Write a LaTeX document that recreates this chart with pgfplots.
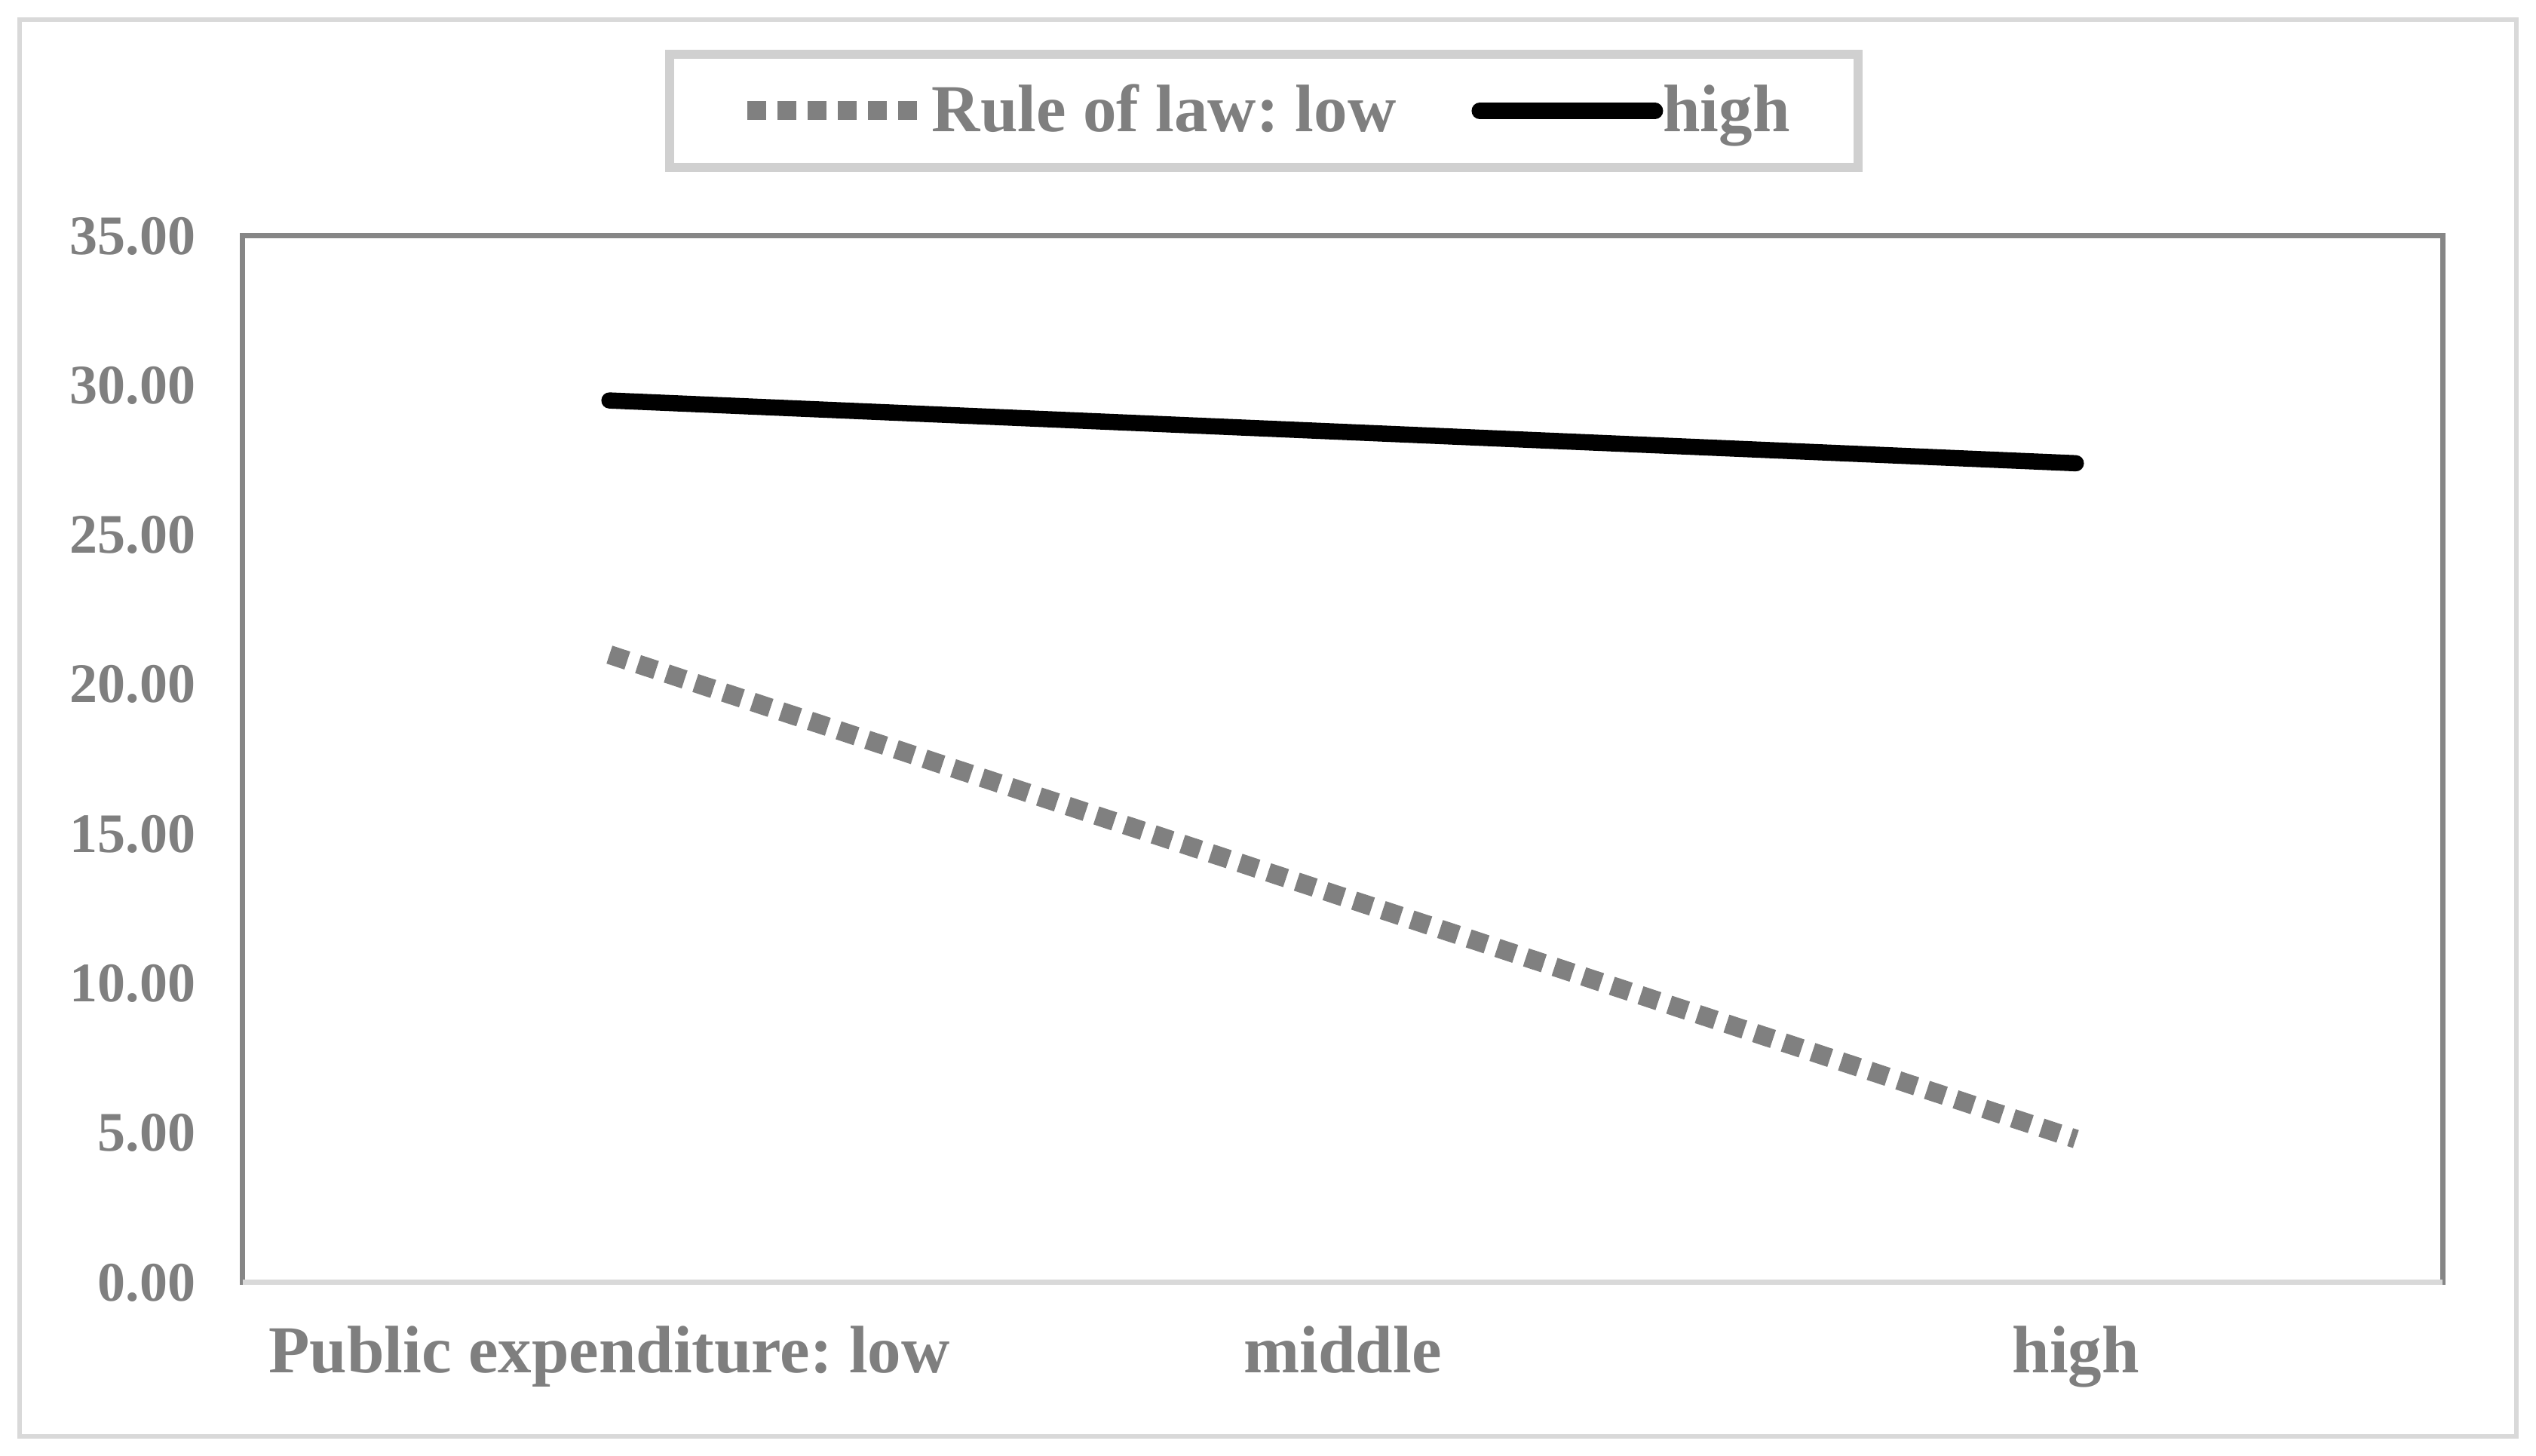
\documentclass[border=0pt]{standalone}
\usepackage{pgfplots}
\pgfplotsset{compat=1.18}
\usepackage{fontspec}
\setmainfont{Liberation Serif}
\frenchspacing
\definecolor{textgray}{HTML}{7F7F7F}
\definecolor{axgray}{HTML}{868686}
\definecolor{lightgray2}{HTML}{D9D9D9}
\definecolor{legendgray}{HTML}{D0D0D0}
\definecolor{dotgray}{HTML}{808080}
\begin{document}
\frenchspacing
\begin{tikzpicture}
\path[use as bounding box] (0,0) rectangle (672.6pt,386pt);
\draw[lightgray2, line width=1.2pt] (5.2pt,5pt) rectangle (667.4pt,380.8pt);
\begin{axis}[
  at={(64.4pt,45.8pt)}, anchor=south west,
  width=583.4pt, height=277.6pt, scale only axis,
  xmin=-0.5, xmax=2.5, ymin=0, ymax=35,
  xtick={0,1,2},
  xticklabels={Public expenditure: low, middle, high},
  ytick={0,5,10,15,20,25,30,35},
  major tick length=0pt,
  axis line style={axgray, line width=1.4pt},
  /pgf/number format/.cd, fixed, fixed zerofill, precision=2, assume math mode=true,
  /pgfplots/.cd,
  yticklabel style={font=\bfseries\fontsize{14.8}{17}\selectfont, text=textgray, xshift=-9pt},
  xticklabel style={font=\bfseries\fontsize{17.8}{20}\selectfont\frenchspacing, text=textgray, yshift=-8pt},
  legend columns=2,
  legend image code/.code={\draw[#1] (0pt,0pt) -- (46.5pt,0pt);},
  legend style={at={(rel axis cs:0.4642,1.1196)}, anchor=center,
    draw=legendgray, line width=2.4pt,
    font=\bfseries\fontsize{17.8}{20}\selectfont\frenchspacing, text=textgray,
    inner xsep=18pt, inner ysep=6pt,
    /tikz/every even column/.append style={column sep=20pt},
    nodes={inner xsep=0pt}},
  clip=false,
]
\addplot[dotgray, line width=5pt, line cap=butt, dash pattern=on 5pt off 3pt]
  coordinates {(0,21.0) (1,12.9) (2,4.8)};
\addlegendentry{Rule of law: low}
\addplot[black, line width=4.3pt, line cap=round]
  coordinates {(0,29.5) (1,28.45) (2,27.4)};
\addlegendentry{high}
\draw[lightgray2, line width=1.4pt] (rel axis cs:0,0) -- (rel axis cs:1,0);
\end{axis}
\end{tikzpicture}
\end{document}
